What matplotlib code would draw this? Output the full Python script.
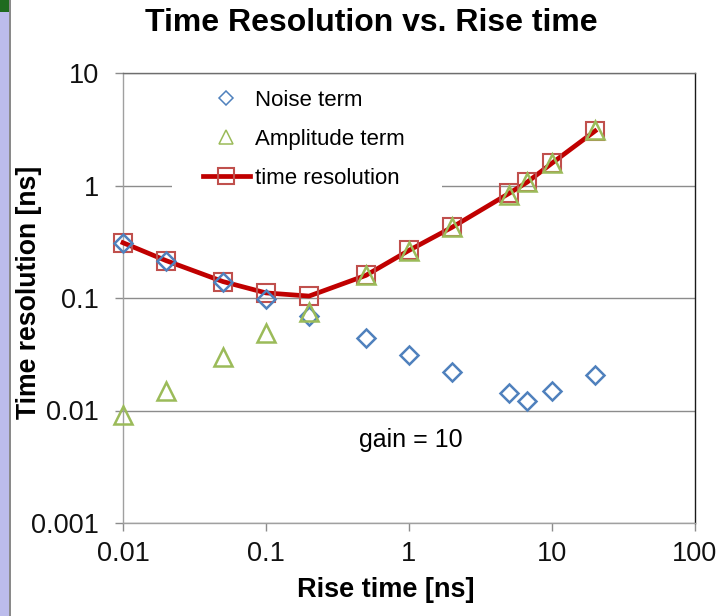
import matplotlib
matplotlib.use('Agg')
import matplotlib.pyplot as plt
from matplotlib.lines import Line2D
from matplotlib.patches import Rectangle

plt.rcParams['font.family'] = ['Liberation Sans', 'DejaVu Sans']

# rise time [ns]
rise = [0.01, 0.02, 0.05, 0.1, 0.2, 0.5, 1, 2, 5, 6.7, 10, 20]
# time resolution terms [ns]
noise = [0.31, 0.214, 0.139, 0.097, 0.069, 0.044, 0.031, 0.0222, 0.0144, 0.0121, 0.0148, 0.0208]
amplitude = [0.0091, 0.015, 0.030, 0.049, 0.075, 0.161, 0.26, 0.425, 0.83, 1.07, 1.6, 3.1]
resolution = [0.31, 0.215, 0.14, 0.111, 0.104, 0.159, 0.265, 0.425, 0.85, 1.07, 1.58, 3.05]

W, H = 723, 616
fig = plt.figure(figsize=(W / 100, H / 100), dpi=100)

# slide remnants on the left edge
fig.patches.append(Rectangle((0, 0), 9 / W, 1, transform=fig.transFigure,
                             facecolor='#bcbcec', edgecolor='none'))
fig.patches.append(Rectangle((0, 1 - 12 / H), 9 / W, 12 / H, transform=fig.transFigure,
                             facecolor='#1e6b1e', edgecolor='none'))
fig.patches.append(Rectangle((9 / W, 0), 2 / W, 1, transform=fig.transFigure,
                             facecolor='#8a8a8a', edgecolor='none'))

ax = fig.add_axes([123 / W, 93 / H, 572 / W, 450 / H])
ax.set_xscale('log')
ax.set_yscale('log')
ax.set_xlim(0.01, 100)
ax.set_ylim(0.001, 10)

ax.plot(rise, resolution, color='#c00000', lw=3.4, marker='s', ms=12.5,
        mfc='none', mec='#c0504d', mew=1.5, zorder=3, clip_on=False)
ax.plot(rise, noise, ls='none', marker='D', ms=9.5, mfc='none',
        mec='#4f81bd', mew=1.8, zorder=4, clip_on=False)
ax.plot(rise, amplitude, ls='none', marker='^', ms=13, mfc='none',
        mec='#9bbb59', mew=1.8, zorder=5, clip_on=False)

ax.set_xticks([0.01, 0.1, 1, 10, 100])
ax.set_xticklabels(['0.01', '0.1', '1', '10', '100'])
ax.set_yticks([0.001, 0.01, 0.1, 1, 10])
ax.set_yticklabels(['0.001', '0.01', '0.1', '1', '10'])
ax.minorticks_off()
ax.tick_params(axis='both', which='major', direction='out', length=5.5, width=1,
               color='#8c8c8c', labelsize=19.5, labelcolor='#111111')
ax.tick_params(axis='y', pad=12)
ax.tick_params(axis='x', pad=7.5)

ax.yaxis.grid(True, color='#8c8c8c', lw=1)
ax.set_axisbelow(True)
ax.spines['left'].set_color('#a0a0a0')
ax.spines['bottom'].set_color('#a0a0a0')
ax.spines['top'].set_color('#6e6e6e')
ax.spines['right'].set_color('#1a1a1a')
for s in ax.spines.values():
    s.set_linewidth(1)

# white area behind the legend, breaking the gridline at 1
ax.add_patch(Rectangle((172 / W, 1 - 196 / H), 270 / W, 118 / H, transform=fig.transFigure,
                       facecolor='white', edgecolor='none', zorder=1))

fig.text(386 / W, 1 - 590 / H, 'Rise time [ns]', fontsize=19.5, fontweight='bold',
         ha='center', va='center')
fig.text(29 / W, 1 - 292 / H, 'Time resolution [ns]', fontsize=19.2, fontweight='bold',
         ha='center', va='center', rotation=90)

fig.text(411 / W, 1 - 440 / H, 'gain = 10', fontsize=18, ha='center', va='center')

fig.text(371 / W, 1 - 23 / H, 'Time Resolution vs. Rise time', fontsize=23,
         fontweight='bold', ha='center', va='center')

handles = [
    Line2D([], [], ls='none', marker='D', ms=7.5, mfc='none', mec='#4f81bd', mew=1.1),
    Line2D([], [], ls='none', marker='^', ms=10.5, mfc='none', mec='#9bbb59', mew=1.1),
    Line2D([], [], color='#c00000', lw=3.4, marker='s', ms=11.5, mfc='none',
           mec='#c0504d', mew=1.5),
]
labels = ['Noise term', 'Amplitude term', 'time resolution']
leg = fig.legend(handles, labels, loc='upper left', bbox_to_anchor=(203 / W, 1 - 90 / H),
                 fontsize=16, frameon=False, handlelength=2.1, handletextpad=0.25,
                 labelspacing=0.8, borderpad=0, borderaxespad=0)

fig.savefig('out.png', dpi=100)
